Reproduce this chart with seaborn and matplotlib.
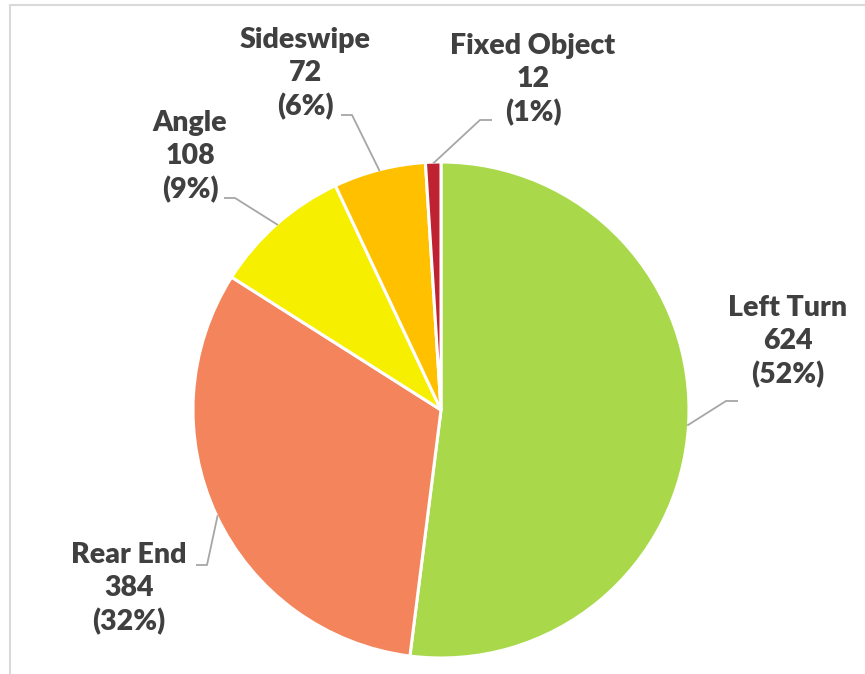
import numpy as np
import matplotlib
matplotlib.use("Agg")
import matplotlib.pyplot as plt
import seaborn as sns

# datos del grafico
categorias = ["Left Turn", "Rear End", "Angle", "Sideswipe", "Fixed Object"]
valores = [624, 384, 108, 72, 12]
colores = ["#A9D94B", "#F4845B", "#F6EF00", "#FFC000", "#BF2332"]

sns.set_theme(style="white")
plt.rcParams["font.family"] = ["Lato", "DejaVu Sans"]

W, H = 865, 674
fig = plt.figure(figsize=(W / 100, H / 100), dpi=100)
ax = fig.add_axes([0, 0, 1, 1])

# pixel -> unidades del pie (centro 441,410 ; radio 248 px)
cx, cy, R = 441, 410, 248
def P(x, y):
    return ((x - cx) / R, (cy - y) / R)

wedges, _ = ax.pie(valores, colors=sns.color_palette(colores), startangle=90,
                   counterclock=False, radius=1.0,
                   wedgeprops=dict(edgecolor="white", linewidth=2.2))

ax.set_xlim(P(0, 0)[0], P(W, 0)[0])
ax.set_ylim(P(0, H)[1], P(0, 0)[1])
ax.set_aspect("equal")
ax.axis("off")

total = sum(valores)
textos = [f"{c}\n{v}\n({round(100 * v / total):.0f}%)" for c, v in zip(categorias, valores)]

# posiciones de etiquetas (centro del texto) y quiebre de la linea guia, en px
etiquetas = [(788, 342), (129, 589), (190, 157), (305, 74), (533, 80)]
codos = [((726, 401), (738, 401)),
         ((207, 565), (196, 565)),
         ((235, 198), (224, 198)),
         ((352, 115), (341, 115)),
         ((480, 120), (492, 120))]

for w, txt, (lx, ly), (c1, c2) in zip(wedges, textos, etiquetas, codos):
    ang = np.deg2rad((w.theta1 + w.theta2) / 2)
    p0 = (0.995 * np.cos(ang), 0.995 * np.sin(ang))
    p1 = P(*c1)
    p2 = P(*c2)
    ax.plot([p0[0], p1[0], p2[0]], [p0[1], p1[1], p2[1]],
            color="#A6A6A6", lw=1.3, solid_capstyle="butt")
    tx, ty = P(lx, ly)
    ax.text(tx, ty, txt, ha="center", va="center", multialignment="center",
            fontsize=20.5, fontweight="heavy", color="#404040", linespacing=1.32)

# borde del area del grafico
fig.add_artist(plt.Line2D([10 / W, 10 / W], [0, 1 - 5 / H],
                          transform=fig.transFigure, color="#D9D9D9", lw=1.5))
fig.add_artist(plt.Line2D([10 / W, 1], [1 - 5 / H, 1 - 5 / H],
                          transform=fig.transFigure, color="#D9D9D9", lw=1.5))

fig.savefig("out.png", dpi=100, facecolor="white")
